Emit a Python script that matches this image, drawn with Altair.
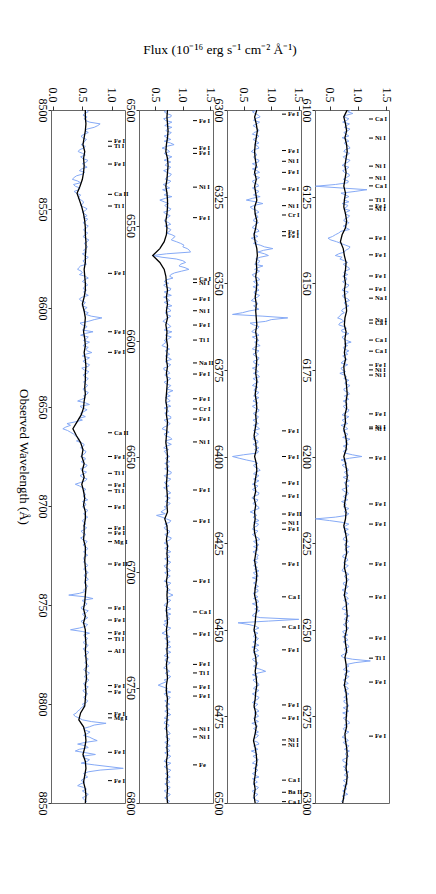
import altair as alt
import numpy as np
import pandas as pd

FONT = "Liberation Serif"
BLUE = "#86aaf6"

# ---------------- Panel 1 : 8500-8850 A ----------------
P1_RANGE = [8500, 8850]
P1_BLACK_STEP = 3.5
P1_BLACK = [55, 55, 56, 55, 53, 51, 54, 52, 53, 52,
            50, 46, 41, 45, 49, 52, 54, 55, 55, 56,
            56, 55, 55, 53, 54, 55, 55, 53, 50, 53,
            55, 54, 52, 54, 55, 53, 55, 56, 55, 55,
            54, 55, 53, 52, 48, 41, 34, 40, 47, 51,
            49, 53, 50, 53, 49, 52, 54, 52, 55, 55,
            53, 53, 52, 55, 55, 54, 55, 56, 55, 56,
            55, 54, 52, 55, 52, 55, 55, 56, 55, 56,
            57, 56, 57, 55, 56, 55, 54, 47, 44, 52,
            55, 56, 54, 51, 55, 56, 54, 52, 55, 56,
            55]
# blue (noisy) spectrum: samples on a 1.75 A grid and the samples half-way between them
P1_BLUE_STEP = 1.75
P1_BLUE_ON = [56, 54, 58, 55, 80, 70, 55, 53, 50, 54,
              48, 52, 43, 55, 51, 57, 53, 49, 54, 40,
              33, 47, 38, 44, 40, 45, 48, 51, 52, 55,
              54, 52, 56, 55, 57, 54, 56, 55, 58, 56,
              55, 57, 54, 56, 53, 47, 42, 50, 55, 53,
              56, 54, 57, 55, 50, 47, 53, 58, 52, 56,
              83, 60, 50, 54, 68, 47, 57, 62, 51, 56,
              66, 50, 57, 55, 60, 53, 58, 54, 57, 55,
              56, 53, 58, 55, 42, 62, 50, 53, 49, 44,
              38, 30, 17, 30, 38, 45, 48, 52, 50, 55,
              47, 54, 52, 56, 49, 53, 50, 55, 38, 50,
              51, 56, 54, 50, 56, 53, 57, 55, 54, 52,
              51, 55, 50, 53, 51, 56, 54, 57, 55, 53,
              54, 57, 55, 56, 54, 58, 55, 57, 56, 54,
              27, 68, 52, 55, 49, 57, 53, 55, 50, 56,
              30, 62, 54, 56, 53, 57, 55, 58, 56, 57,
              58, 55, 57, 59, 56, 58, 54, 57, 53, 56,
              55, 57, 53, 46, 40, 38, 50, 90, 62, 55,
              58, 62, 75, 42, 60, 38, 72, 53, 58, 70,
              119, 60, 55, 52, 54, 42, 57, 54, 56, 53,
              55]
P1_BLUE_MID = [60, 51, 53, 62, 76, 58, 60, 48, 57, 52,
               55, 45, 50, 47, 59, 50, 58, 45, 50, 36,
               42, 35, 46, 36, 47, 43, 52, 47, 58, 50,
               58, 59, 51, 60, 52, 59, 51, 61, 53, 59,
               52, 50, 60, 51, 57, 44, 48, 45, 60, 50,
               59, 51, 52, 60, 45, 55, 49, 54, 60, 65,
               70, 46, 58, 50, 55, 60, 52, 56, 60, 58,
               55, 62, 51, 62, 49, 61, 51, 60, 52, 59,
               51, 60, 52, 49, 55, 46, 58, 47, 55, 50,
               24, 22, 25, 35, 42, 40, 53, 47, 56, 51,
               55, 48, 58, 47, 57, 46, 58, 47, 45, 56,
               53, 51, 59, 55, 50, 59, 52, 59, 50, 56,
               57, 48, 56, 47, 58, 51, 59, 52, 59, 52,
               52, 59, 52, 60, 53, 60, 53, 59, 52, 45,
               55, 50, 58, 48, 60, 50, 59, 48, 59, 45,
               50, 52, 59, 52, 60, 51, 61, 53, 60, 54,
               61, 52, 62, 53, 61, 52, 60, 51, 59, 52,
               59, 50, 48, 42, 35, 45, 65, 70, 52, 63,
               52, 68, 55, 56, 45, 56, 50, 62, 48, 95,
               80, 52, 59, 48, 47, 52, 50, 60, 50, 57]
P1_LINES = [8515.8, 8518.3, 8527.3, 8542.6, 8548.5, 8582.5, 8612.0, 8622.4,
            8663.0, 8675.0, 8683.5, 8689.4, 8692.3, 8700.3, 8711.3, 8713.6,
            8718.0, 8729.3, 8751.5, 8757.6, 8764.0, 8767.0, 8773.4, 8790.7,
            8793.8, 8804.9, 8807.0, 8824.4, 8838.7]
P1_NAMES = ["Fe I", "Ti I", "Fe I", "Ca II", "Ti I", "Fe I", "Fe I", "Fe I",
            "Ca II", "Fe I", "Ti I", "Fe I", "Ti I", "Fe I", "Fe I", "Fe I",
            "Mg I", "Fe II", "Fe I", "Fe I", "Fe I", "Ti I", "Al I", "Fe I",
            "Fe", "Fe I", "Mg I", "Fe I", "Fe I"]
P1_YTICKS = [8500, 8550, 8600, 8650, 8700, 8750, 8800, 8850]
P1_XDOM = [-0.03, 1.22]
P1_XTICKS = [0.0, 0.5, 1.0]

# ---------------- Panel 2 : 6500-6800 A ----------------
P2_RANGE = [6500, 6800]
P2_BLACK_STEP = 3.0
P2_BLACK = [72, 71, 72, 73, 72, 70, 69, 72, 73, 72,
            71, 69, 71, 72, 72, 71, 69, 71, 70, 66,
            58, 45, 58, 66, 69, 70, 72, 70, 72, 70,
            72, 69, 71, 70, 72, 71, 70, 72, 70, 72,
            71, 70, 69, 71, 70, 72, 71, 70, 69, 71,
            72, 71, 72, 71, 70, 71, 72, 71, 72, 67,
            71, 72, 70, 72, 71, 72, 71, 72, 70, 72,
            71, 72, 70, 71, 72, 70, 71, 72, 71, 72,
            70, 71, 72, 70, 70, 72, 71, 72, 71, 70,
            71, 72, 71, 72, 70, 71, 72, 71, 72, 71,
            72]
P2_BLUE_STEP = 1.5
P2_BLUE_ON = [74, 70, 78, 68, 73, 80, 69, 75, 71, 66,
              84, 62, 76, 70, 73, 78, 68, 74, 71, 77,
              68, 75, 70, 63, 72, 80, 58, 74, 70, 76,
              69, 73, 66, 78, 72, 76, 80, 82, 88, 102,
              108, 114, 45, 88, 105, 93, 111, 85, 76, 70,
              74, 68, 77, 71, 65, 76, 72, 69, 78, 70,
              73, 64, 75, 71, 80, 68, 74, 70, 62, 76,
              72, 68, 79, 70, 74, 66, 76, 71, 73, 69,
              75, 82, 70, 68, 77, 72, 66, 74, 71, 78,
              70, 73, 62, 75, 68, 80, 72, 70, 74, 69,
              76, 71, 67, 75, 72, 78, 69, 74, 70, 65,
              73, 71, 77, 68, 74, 70, 60, 52, 70, 76,
              72, 68, 75, 71, 77, 66, 74, 72, 69, 76,
              71, 74, 68, 77, 70, 73, 66, 75, 72, 70,
              82, 70, 74, 66, 78, 71, 69, 75, 72, 68,
              74, 62, 76, 71, 69, 78, 72, 70, 75, 68,
              73, 65, 76, 71, 74, 70, 55, 72, 78, 69,
              74, 71, 68, 76, 72, 70, 75, 66, 73, 71,
              77, 69, 74, 72, 68, 76, 71, 74, 66, 73,
              70, 75, 72, 68, 76, 71, 73, 70, 74, 71,
              72]
P2_BLUE_MID = [66, 79, 65, 80, 67, 72, 79, 66, 78, 77,
               70, 72, 66, 80, 66, 70, 78, 65, 79, 70,
               78, 64, 76, 70, 66, 68, 66, 67, 78, 65,
               77, 68, 74, 67, 78, 70, 86, 79, 96, 100,
               112, 70, 62, 100, 96, 104, 98, 78, 82, 66,
               65, 78, 66, 79, 72, 66, 80, 76, 68, 78,
               67, 70, 78, 66, 72, 79, 66, 65, 70, 68,
               76, 74, 68, 78, 65, 74, 67, 78, 66, 78,
               70, 74, 77, 74, 68, 78, 72, 67, 78, 66,
               77, 66, 70, 66, 77, 68, 79, 65, 66, 70,
               68, 76, 73, 67, 79, 66, 78, 66, 75, 70,
               78, 68, 72, 77, 66, 65, 68, 62, 78, 67,
               66, 76, 67, 79, 70, 73, 67, 78, 74, 67,
               78, 66, 75, 67, 77, 69, 78, 68, 77, 75,
               74, 78, 68, 73, 68, 78, 75, 66, 65, 78,
               68, 70, 67, 77, 75, 68, 78, 66, 68, 77,
               69, 72, 68, 78, 66, 62, 64, 68, 66, 77,
               67, 76, 73, 67, 78, 66, 67, 75, 66, 74,
               70, 76, 67, 77, 74, 67, 78, 68, 78, 66,
               78, 68, 77, 74, 67, 77, 66, 77, 67, 76]
P2_LINES = [6504.6, 6516.6, 6518.8, 6533.4, 6546.6, 6573.2, 6574.7, 6581.9,
            6586.9, 6593.1, 6599.6, 6609.5, 6614.3, 6625.0, 6629.4, 6633.8,
            6643.7, 6664.5, 6678.0, 6704.0, 6717.3, 6726.8, 6740.0, 6743.7,
            6749.8, 6753.7, 6768.0, 6771.4, 6783.5]
P2_NAMES = ["Fe I", "Fe I", "Fe I", "Ni I", "Fe I", "Ca I", "Ni I", "Fe I",
            "Ni I", "Fe I", "Ti I", "Na II", "Fe I", "Fe I", "Cr I", "Fe I",
            "Ni I", "Fe I", "Fe I", "Fe I", "Ca I", "Fe I", "Fe I", "Ti I",
            "Fe I", "Fe I", "Ni I", "Ni I", "Fe"]
P2_YTICKS = [6500, 6550, 6600, 6650, 6700, 6750, 6800]
P2_XDOM = [0.2, 1.55]
P2_XTICKS = [0.5, 1.0, 1.5]

# ---------------- Panel 3 : 6300-6500 A ----------------
P3_RANGE = [6300, 6500]
P3_BLACK_STEP = 2.0
P3_BLACK = [74, 70, 73, 75, 73, 71, 70, 71, 73, 70,
            73, 70, 72, 74, 70, 71, 74, 72, 69, 71,
            74, 75, 73, 74, 72, 74, 73, 71, 73, 72,
            73, 74, 72, 74, 73, 72, 74, 73, 72, 74,
            73, 71, 73, 74, 72, 73, 71, 69, 72, 73,
            70, 73, 74, 72, 70, 72, 69, 72, 70, 71,
            69, 70, 73, 74, 72, 70, 72, 74, 73, 71,
            70, 73, 74, 72, 71, 69, 72, 71, 69, 72,
            73, 71, 73, 74, 72, 71, 69, 72, 70, 73,
            71, 68, 71, 73, 74, 72, 71, 69, 71, 69,
            71]
P3_BLUE_STEP = 1.0
P3_BLUE_ON = [76, 70, 80, 68, 74, 72, 78, 66, 75, 73,
              70, 78, 64, 74, 70, 77, 72, 66, 79, 70,
              74, 68, 77, 71, 73, 80, 55, 85, 62, 74,
              70, 76, 68, 73, 66, 78, 70, 64, 75, 80,
              103, 76, 95, 72, 78, 85, 70, 74, 68, 79,
              72, 67, 78, 70, 75, 64, 76, 72, 60, 30,
              130, 90, 68, 76, 65, 78, 72, 70, 80, 66,
              74, 71, 77, 69, 75, 73, 68, 79, 72, 70,
              76, 69, 74, 78, 67, 73, 71, 77, 70, 75,
              72, 68, 79, 71, 74, 67, 76, 72, 70, 75,
              30, 55, 76, 70, 80, 68, 74, 78, 66, 73,
              71, 77, 65, 74, 70, 78, 62, 74, 72, 68,
              75, 66, 73, 70, 79, 72, 68, 76, 71, 74,
              67, 72, 75, 78, 70, 66, 74, 72, 69, 76,
              71, 68, 77, 73, 70, 74, 66, 150, 40, 72,
              70, 76, 68, 74, 72, 65, 77, 71, 73, 69,
              75, 72, 90, 66, 74, 70, 78, 68, 73, 71,
              76, 66, 72, 74, 69, 77, 71, 65, 75, 72,
              70, 74, 68, 78, 71, 64, 75, 72, 70, 76,
              68, 73, 71, 66, 75, 70, 74, 68, 72, 70,
              73]
P3_BLUE_MID = [66, 77, 71, 79, 67, 76, 69, 78, 67, 78,
               76, 68, 72, 68, 78, 66, 76, 74, 68, 79,
               66, 76, 66, 78, 68, 66, 72, 70, 66, 78,
               75, 69, 77, 68, 76, 68, 76, 72, 68, 88,
               86, 88, 80, 79, 70, 76, 79, 66, 77, 68,
               78, 74, 69, 79, 68, 74, 68, 78, 48, 85,
               100, 62, 78, 68, 74, 66, 78, 74, 69, 78,
               67, 78, 68, 78, 66, 77, 76, 67, 77, 66,
               70, 78, 68, 71, 76, 66, 78, 68, 77, 67,
               77, 75, 68, 77, 68, 76, 67, 78, 77, 50,
               42, 70, 68, 77, 72, 78, 68, 72, 76, 66,
               78, 68, 76, 67, 77, 69, 70, 67, 78, 77,
               68, 76, 66, 77, 68, 78, 75, 67, 77, 76,
               75, 68, 70, 68, 77, 75, 68, 77, 76, 67,
               76, 76, 66, 77, 79, 68, 80, 95, 60, 78,
               68, 70, 77, 67, 78, 74, 67, 78, 66, 76,
               68, 82, 76, 75, 67, 77, 70, 78, 66, 78,
               70, 76, 68, 78, 75, 68, 77, 74, 68, 77,
               77, 68, 76, 68, 76, 72, 67, 77, 66, 74,
               76, 66, 78, 72, 67, 77, 66, 76, 67, 78]
P3_LINES = [6301.2, 6311.7, 6314.8, 6318.0, 6322.8, 6327.6, 6330.3, 6335.1,
            6336.3, 6392.6, 6400.0, 6407.6, 6411.4, 6416.6, 6419.2, 6421.0,
            6431.0, 6440.5, 6449.2, 6455.8, 6471.7, 6475.5, 6481.8, 6483.2,
            6493.4, 6496.9, 6499.6]
P3_NAMES = ["Fe I", "Fe I", "Ni I", "Fe I", "Fe I", "Ni I", "Cr I", "Fe I",
            "Fe I", "Fe I", "Fe I", "Fe I", "Fe I", "Fe II", "Ni I", "Fe I",
            "Fe I", "Ca I", "Ca I", "Fe I", "Fe I", "Fe I", "Ni I", "Ni I",
            "Ca I", "Ba II", "Ca I"]
P3_YTICKS = [6300, 6325, 6350, 6375, 6400, 6425, 6450, 6475, 6500]
P3_XDOM = [0.2, 1.54]
P3_XTICKS = [0.5, 1.0, 1.5]

# ---------------- Panel 4 : 6100-6300 A ----------------
P4_RANGE = [6100, 6300]
P4_BLACK_STEP = 2.0
P4_BLACK = [81, 75, 78, 80, 77, 80, 81, 79, 77, 79,
            77, 75, 78, 76, 75, 78, 80, 78, 72, 69,
            74, 76, 79, 78, 76, 78, 76, 77, 79, 80,
            77, 76, 79, 77, 78, 76, 78, 75, 76, 79,
            80, 81, 79, 80, 77, 78, 75, 78, 80, 79,
            75, 78, 80, 81, 79, 80, 78, 76, 79, 78,
            75, 78, 80, 79, 80, 77, 76, 79, 80, 78,
            76, 79, 80, 81, 79, 80, 77, 78, 80, 77,
            79, 80, 78, 76, 79, 80, 81, 80, 79, 80,
            77, 78, 80, 81, 80, 79, 81, 80, 77, 75,
            73]
P4_BLUE_STEP = 1.0
P4_BLUE_ON = [88, 91, 74, 80, 85, 76, 82, 79, 72, 84,
              78, 86, 75, 81, 77, 83, 72, 80, 76, 85,
              74, 82, 25, 116, 70, 84, 76, 72, 80, 86,
              77, 83, 75, 81, 79, 70, 60, 47, 62, 78,
              84, 76, 60, 68, 82, 78, 85, 75, 73, 80,
              76, 82, 72, 80, 74, 85, 77, 79, 71, 70,
              64, 75, 66, 80, 72, 78, 74, 88, 82, 76,
              78, 73, 81, 70, 76, 72, 68, 80, 84, 77,
              82, 76, 85, 79, 74, 81, 77, 83, 72, 79,
              76, 70, 82, 75, 80, 86, 78, 74, 81, 77,
              107, 70, 80, 76, 83, 79, 74, 85, 78, 80,
              75, 82, 77, 71, 79, 84, 76, 80, 25, 72,
              78, 83, 76, 81, 74, 79, 85, 77, 80, 73,
              82, 76, 79, 72, 84, 78, 81, 75, 80, 77,
              74, 83, 78, 80, 72, 79, 85, 76, 81, 78,
              80, 75, 73, 82, 78, 84, 77, 76, 74, 122,
              80, 78, 85, 76, 81, 79, 74, 83, 77, 80,
              82, 76, 84, 79, 73, 81, 78, 85, 80, 76,
              79, 72, 83, 77, 81, 85, 78, 80, 74, 82,
              79, 84, 76, 81, 78, 74, 80, 77, 72, 75,
              74]
P4_BLUE_MID = [82, 80, 84, 73, 80, 86, 75, 84, 80, 76,
               84, 77, 85, 74, 86, 76, 84, 73, 84, 79,
               83, 60, 70, 95, 78, 76, 84, 82, 75, 79,
               85, 76, 84, 74, 85, 66, 55, 52, 70, 86,
               78, 66, 72, 76, 74, 84, 77, 82, 80, 73,
               84, 74, 83, 73, 82, 76, 84, 73, 76, 68,
               72, 68, 75, 71, 84, 72, 80, 76, 74, 84,
               82, 77, 74, 82, 70, 78, 76, 75, 78, 86,
               75, 83, 76, 84, 80, 74, 84, 76, 84, 72,
               82, 78, 74, 82, 73, 79, 83, 80, 74, 90,
               85, 78, 72, 82, 76, 84, 80, 76, 84, 72,
               83, 74, 82, 78, 74, 78, 84, 60, 50, 84,
               74, 76, 84, 75, 83, 76, 78, 84, 74, 81,
               75, 83, 73, 80, 76, 84, 74, 83, 72, 82,
               80, 75, 84, 74, 82, 76, 78, 84, 74, 84,
               73, 82, 80, 74, 83, 76, 82, 70, 90, 95,
               84, 74, 78, 84, 74, 83, 80, 76, 84, 75,
               75, 82, 74, 84, 80, 74, 84, 76, 74, 84,
               76, 80, 74, 84, 76, 79, 84, 73, 81, 74,
               76, 78, 83, 74, 82, 79, 73, 82, 76, 71]
P4_LINES = [6102.6, 6108.1, 6116.2, 6119.6, 6121.9, 6126.0, 6127.7, 6128.6,
            6137.0, 6141.8, 6147.9, 6151.7, 6154.3, 6160.6, 6161.5, 6166.4,
            6169.6, 6173.6, 6175.0, 6176.5, 6187.7, 6191.5, 6192.0, 6200.4,
            6213.7, 6219.5, 6231.0, 6240.5, 6252.4, 6258.2, 6265.1, 6280.7]
P4_NAMES = ["Ca I", "Ni I", "Ni I", "Ni I", "Ca I", "Ti I", "Fe I", "Ni I",
            "Fe I", "Fe I", "Fe I", "Fe I", "Na I", "Na I", "Ca I", "Ca I",
            "Ca I", "Fe I", "Ni I", "Ni I", "Fe I", "Ni I", "Ni I", "Fe I",
            "Fe I", "Fe I", "Fe I", "Fe I", "Fe I", "Ti I", "Fe I", "Fe I"]
P4_YTICKS = [6100, 6125, 6150, 6175, 6200, 6225, 6250, 6275, 6300]
P4_XDOM = [0.24, 1.55]
P4_XTICKS = [0.5, 1.0, 1.5]

PANEL_W = 74
PANEL_H = 693


def spectrum_frame(start, step, values):
    wl = start + step * np.arange(len(values))
    return pd.DataFrame({"wl": wl, "flux": np.array(values) / 100.0})


def blue_frame(start, step, on_grid, mid):
    # merge the on-grid samples with the half-step samples, in wavelength order
    wl_on = start + step * np.arange(len(on_grid))
    wl_mid = start + step * (np.arange(len(mid)) + 0.5)
    df = pd.DataFrame({
        "wl": np.concatenate([wl_on, wl_mid]),
        "flux": np.concatenate([np.array(on_grid), np.array(mid)]) / 100.0,
    })
    return df.sort_values("wl").reset_index(drop=True)


def make_panel(rng, bstep, black, ustep, blue_on, blue_mid, lines, names,
               yticks, xdom, xticks, dash_x, first):
    xenc = alt.X(
        "flux:Q",
        scale=alt.Scale(domain=xdom, nice=False, zero=False),
        axis=alt.Axis(orient="top", values=xticks, format=".1f", title=None,
                      labelAngle=90, labelAlign="right",
                      labelBaseline="middle", labelPadding=4, tickSize=4),
    )
    yaxis = dict(values=yticks, format="d", labelAngle=90,
                 labelAlign="center", labelBaseline="top",
                 labelPadding=1, tickSize=3)
    if first:
        yaxis.update(title="Observed Wavelength (Å)", titleAngle=90,
                     titleBaseline="top", titlePadding=7)
    else:
        yaxis.update(title=None)
    yenc = alt.Y("wl:Q",
                 scale=alt.Scale(domain=rng, reverse=True, nice=False,
                                 zero=False),
                 axis=alt.Axis(**yaxis))

    blue_line = alt.Chart(blue_frame(rng[0], ustep, blue_on, blue_mid)).mark_line(
        color=BLUE, strokeWidth=1, clip=True
    ).encode(x=xenc, y=yenc, order="wl:Q")
    black_line = alt.Chart(spectrum_frame(rng[0], bstep, black)).mark_line(
        color="black", strokeWidth=1.3, clip=True
    ).encode(x=xenc, y=yenc, order="wl:Q")

    lab = pd.DataFrame({"wl": lines, "name": names})
    dash = alt.Chart(lab).mark_rule(color="black", strokeWidth=1).encode(
        x=alt.value(dash_x), x2=alt.value(dash_x + 4), y=yenc
    )
    txt = alt.Chart(lab).mark_text(
        align="left", baseline="middle", font=FONT, fontSize=6.5,
        fontWeight="bold", color="black"
    ).encode(x=alt.value(dash_x + 6), y=yenc, text="name:N")

    return alt.layer(blue_line, black_line, dash, txt).properties(
        width=PANEL_W, height=PANEL_H
    )


p1 = make_panel(P1_RANGE, P1_BLACK_STEP, P1_BLACK, P1_BLUE_STEP, P1_BLUE_ON,
                P1_BLUE_MID, P1_LINES, P1_NAMES, P1_YTICKS, P1_XDOM,
                P1_XTICKS, 57, True)
p2 = make_panel(P2_RANGE, P2_BLACK_STEP, P2_BLACK, P2_BLUE_STEP, P2_BLUE_ON,
                P2_BLUE_MID, P2_LINES, P2_NAMES, P2_YTICKS, P2_XDOM,
                P2_XTICKS, 54, False)
p3 = make_panel(P3_RANGE, P3_BLACK_STEP, P3_BLACK, P3_BLUE_STEP, P3_BLUE_ON,
                P3_BLUE_MID, P3_LINES, P3_NAMES, P3_YTICKS, P3_XDOM,
                P3_XTICKS, 55, False)
p4 = make_panel(P4_RANGE, P4_BLACK_STEP, P4_BLACK, P4_BLUE_STEP, P4_BLUE_ON,
                P4_BLUE_MID, P4_LINES, P4_NAMES, P4_YTICKS, P4_XDOM,
                P4_XTICKS, 54, False)

chart = alt.hconcat(
    p1, p2, p3, p4, spacing=14, bounds="flush",
    title=alt.TitleParams(
        text="Flux (10⁻¹⁶ erg s⁻¹ cm⁻² Å⁻¹)", font=FONT, fontSize=13.5,
        fontWeight="normal", color="black", anchor="middle", offset=30,
        dx=16
    ),
).properties(
    padding={"left": 7, "top": 35, "right": 5, "bottom": 5}
).configure_view(
    stroke="#666", strokeWidth=1
).configure_axis(
    domain=False, grid=False, tickColor="#333", labelFont=FONT,
    labelFontSize=12, labelColor="black", titleFont=FONT, titleFontSize=13,
    titleFontWeight="normal", titleColor="black", labelOverlap=False,
    labelFlush=False
)

chart.save("out.html", embed_options={"renderer": "svg", "actions": False})
